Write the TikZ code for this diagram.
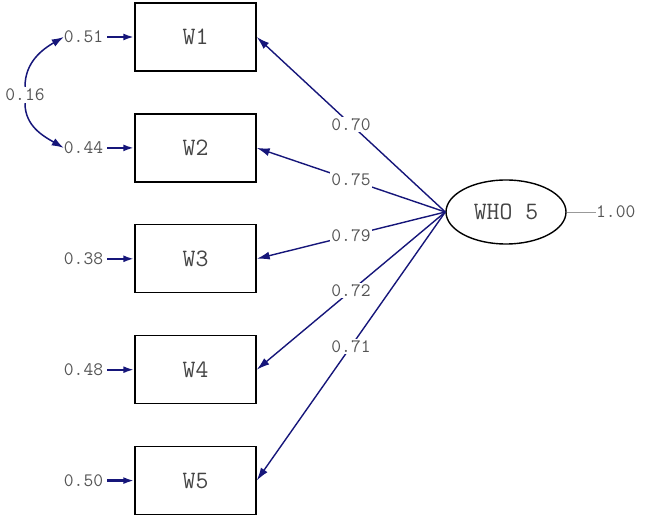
\documentclass[tikz,border=0pt]{standalone}
\usepackage{fontspec}
\usepackage{xcolor}
\usepackage{tikz}
\usetikzlibrary{arrows.meta,positioning,shapes.geometric}
\definecolor{pathnavy}{HTML}{16167A}
\definecolor{numgray}{HTML}{555555}

\begin{document}
\begin{tikzpicture}[
    x=1pt, y=1pt,
    obs/.style={rectangle, draw, line width=1.4pt, minimum width=121pt, minimum height=68pt, font=\ttfamily\fontsize{25}{27}\selectfont, text=numgray!80!black},
    lat/.style={ellipse, draw, line width=1.4pt, minimum width=120pt, minimum height=64pt, inner sep=0pt, font=\ttfamily\fontsize{25}{27}\selectfont, text=numgray!80!black},
    num/.style={font=\ttfamily\fontsize{19}{21}\selectfont, text=numgray, inner sep=0pt},
    load/.style={-{Latex[length=13pt,width=8pt]}, line width=1.4pt, pathnavy},
    err/.style={-{Latex[length=11pt,width=7pt]}, line width=2.2pt, pathnavy, shorten <=4pt},
    cov/.style={-{Latex[length=12pt,width=8pt]}, line width=1.5pt, pathnavy},
    lbl/.style={num, fill=white, inner sep=1.5pt},
    node distance=41.5pt
]
\useasboundingbox (0,0) rectangle (647,516);

% indicators
\node[obs] (w1) at (195.5,479) {W1};
\node[obs, below=of w1] (w2) {W2};
\node[obs, below=of w2] (w3) {W3};
\node[obs, below=of w3] (w4) {W4};
\node[obs, below=of w4] (w5) {W5};

% latent factor
\node[lat] (who) at (506,304) {WHO 5};
\node[num, anchor=west] (var) at (596,304) {1.00};
\draw[numgray!60, line width=0.8pt] (who.east) -- (var.west);

% error variances
\foreach \i/\v in {1/0.51, 2/0.44, 3/0.38, 4/0.48, 5/0.50} {
    \node[num, left=31pt of w\i] (e\i) {\v};
    \draw[err] (e\i) -- (w\i);
}

% error covariance
\node[num, inner sep=2pt] (c16) at (25,421) {0.16};
\draw[cov] (c16.north) to[out=90, in=-150] (e1.west);
\draw[cov] (c16.south) to[out=-90, in=150] (e2.west);

% loadings
\draw[load] (who.west) -- node[lbl] {0.70} (w1.east);
\draw[load] (who.west) -- node[lbl] {0.75} (w2.east);
\draw[load] (who.west) -- node[lbl] {0.79} (w3.east);
\draw[load] (who.west) -- node[lbl] {0.72} (w4.east);
\draw[load] (who.west) -- node[lbl] {0.71} (w5.east);
\end{tikzpicture}
\end{document}
